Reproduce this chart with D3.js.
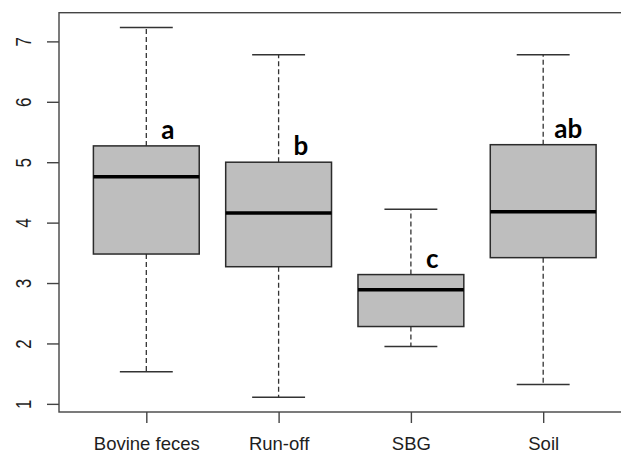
<!DOCTYPE html>
<html>
<head>
<meta charset="utf-8">
<script src="https://cdn.jsdelivr.net/npm/d3@7"></script>
<style>
  body { margin: 0; background: #fff; }
  svg { display: block; }
</style>
</head>
<body>
<div id="chart"></div>
<script>
let w = 621;
let h = 454;

// data
let groups = ["Bovine feces", "Run-off", "SBG", "Soil"];
let whiskerLow = [1.53, 1.11, 1.95, 1.32];
let q1 = [3.48, 3.27, 2.28, 3.42];
let medians = [4.76, 4.16, 2.89, 4.18];
let q3 = [5.27, 5.00, 3.14, 5.29];
let whiskerHigh = [7.23, 6.78, 4.22, 6.78];
let letters = ["a", "b", "c", "ab"];
let yTicks = [1, 2, 3, 4, 5, 6, 7];

let svg = d3.select("#chart")
    .append("svg")
    .attr("width", w)
    .attr("height", h)

// R style 4% padding on both axes
let lo = d3.min(whiskerLow);
let hi = d3.max(whiskerHigh);
let pad = (hi - lo) * 0.04;

let xScale = d3.scaleLinear()
    .domain([0.5 - 0.16, groups.length + 0.5 + 0.16])
    .range([59, 630.5]);

let yScale = d3.scaleLinear()
    .domain([lo - pad, hi + pad])
    .range([412, 12.7]);

let boxHalf = (xScale(1.4) - xScale(1)) ;
let capHalf = boxHalf / 2;

let boxes = groups.map(function (g, i) {
    return {
        name: g,
        pos: i + 1,
        low: whiskerLow[i],
        q1: q1[i],
        med: medians[i],
        q3: q3[i],
        high: whiskerHigh[i],
        letter: letters[i]
    }
})

let g = svg.selectAll(".box")
    .data(boxes)
    .enter()
    .append("g")
    .attr("class", "box")

// whiskers
g.append("line")
    .attr("x1", d => xScale(d.pos))
    .attr("x2", d => xScale(d.pos))
    .attr("y1", d => yScale(d.q3))
    .attr("y2", d => yScale(d.high))
    .attr("stroke", "#333")
    .attr("stroke-width", 1.3)
    .attr("stroke-dasharray", "5,3")

g.append("line")
    .attr("x1", d => xScale(d.pos))
    .attr("x2", d => xScale(d.pos))
    .attr("y1", d => yScale(d.q1))
    .attr("y2", d => yScale(d.low))
    .attr("stroke", "#333")
    .attr("stroke-width", 1.3)
    .attr("stroke-dasharray", "5,3")

// caps
g.append("line")
    .attr("x1", d => xScale(d.pos) - capHalf)
    .attr("x2", d => xScale(d.pos) + capHalf)
    .attr("y1", d => yScale(d.high))
    .attr("y2", d => yScale(d.high))
    .attr("stroke", "#333")
    .attr("stroke-width", 1.5)

g.append("line")
    .attr("x1", d => xScale(d.pos) - capHalf)
    .attr("x2", d => xScale(d.pos) + capHalf)
    .attr("y1", d => yScale(d.low))
    .attr("y2", d => yScale(d.low))
    .attr("stroke", "#333")
    .attr("stroke-width", 1.5)

// box
g.append("rect")
    .attr("x", d => xScale(d.pos) - boxHalf)
    .attr("y", d => yScale(d.q3))
    .attr("width", boxHalf * 2)
    .attr("height", d => yScale(d.q1) - yScale(d.q3))
    .attr("fill", "#bebebe")
    .attr("stroke", "#2b2b2b")
    .attr("stroke-width", 1.5)

// median
g.append("line")
    .attr("x1", d => xScale(d.pos) - boxHalf)
    .attr("x2", d => xScale(d.pos) + boxHalf)
    .attr("y1", d => yScale(d.med))
    .attr("y2", d => yScale(d.med))
    .attr("stroke", "#000")
    .attr("stroke-width", 3.5)

// significance letters
g.append("text")
    .text(d => d.letter)
    .attr("x", d => xScale(d.pos) + (d.letter.length > 1 ? 11 : 15))
    .attr("y", d => yScale(d.q3) - 7)
    .attr("font-family", "Lato, 'Open Sans', sans-serif")
    .attr("font-weight", "bold")
    .attr("font-size", 26)
    .attr("fill", "#000")

// frame
svg.append("rect")
    .attr("x", xScale.range()[0])
    .attr("y", yScale.range()[1])
    .attr("width", xScale.range()[1] - xScale.range()[0])
    .attr("height", yScale.range()[0] - yScale.range()[1])
    .attr("fill", "none")
    .attr("stroke", "#444")
    .attr("stroke-width", 1.4)

// y axis
let yAxis = svg.append("g")
    .attr("transform", "translate(" + xScale.range()[0] + ",0)")
    .call(d3.axisLeft(yScale).tickValues(yTicks).tickSize(12).tickFormat(d3.format("d")))

yAxis.select(".domain").remove()
yAxis.selectAll(".tick line").attr("stroke", "#444").attr("stroke-width", 1.4)
yAxis.selectAll(".tick text")
    .attr("x", null)
    .attr("dy", null)
    .attr("text-anchor", "middle")
    .attr("dominant-baseline", "central")
    .attr("transform", "translate(-36,0) rotate(-90) scale(1,1.3)")
    .attr("font-family", "'Liberation Sans', Arial, sans-serif")
    .attr("font-size", 17)
    .attr("fill", "#1e1e1e")

// x axis
let xAxis = svg.append("g")
    .attr("transform", "translate(0," + yScale.range()[0] + ")")
    .call(d3.axisBottom(xScale).tickValues(boxes.map(d => d.pos)).tickSize(11).tickFormat((d, i) => groups[i]))

xAxis.select(".domain").remove()
xAxis.selectAll(".tick line").attr("stroke", "#444").attr("stroke-width", 1.4)
xAxis.selectAll(".tick text")
    .attr("y", 38)
    .attr("dy", null)
    .attr("font-family", "'Liberation Sans', Arial, sans-serif")
    .attr("font-size", 18.5)
    .attr("fill", "#1e1e1e")
</script>
</body>
</html>
